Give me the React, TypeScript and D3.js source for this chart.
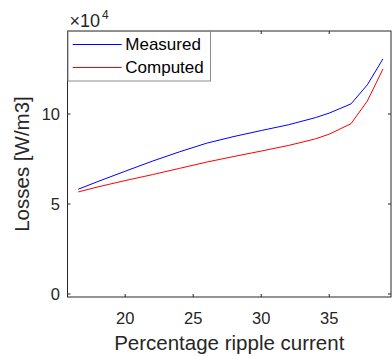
import React from 'react';
import * as d3 from 'd3';

// ripple current (%) and losses (x1e4 W/m3)
const ripple = [16.55, 18, 20, 22, 24, 26, 28, 30, 32, 34, 35, 36.6, 37.8, 38.95];
const measured = [5.82, 6.25, 6.82, 7.38, 7.9, 8.38, 8.75, 9.08, 9.4, 9.8, 10.05, 10.56, 11.62, 13.06];
const computed = [5.67, 5.95, 6.3, 6.63, 6.98, 7.33, 7.64, 7.94, 8.25, 8.62, 8.88, 9.46, 10.72, 12.5];
const xTicks = [20, 25, 30, 35];
const yTicks = [0, 5, 10];
const xDomain: [number, number] = [15.76, 39.54];
const yDomain: [number, number] = [-0.167, 14.61];

const W = 392;
const H = 356;
const m = { left: 67.5, right: 391, top: 31, bottom: 297 };
const font = '"Liberation Sans", Arial, Helvetica, sans-serif';
const axisColor = '#262626';

export default function App() {
  const x = d3.scaleLinear().domain(xDomain).range([m.left, m.right]);
  const y = d3.scaleLinear().domain(yDomain).range([m.bottom, m.top]);

  const line = d3.line<number>()
    .x((_, i) => x(ripple[i]))
    .y((d) => y(d));

  const tick = 3;

  return (
    <svg width={W} height={H} style={{ position: 'absolute', left: 0, top: 0 }} fontFamily={font}>
      <rect width={W} height={H} fill="#fff" />

      {/* data */}
      <path d={line(measured) ?? ''} fill="none" stroke="#0000ff" strokeWidth={1} />
      <path d={line(computed) ?? ''} fill="none" stroke="#ff0000" strokeWidth={1} />

      {/* box */}
      <rect x={m.left} y={m.top} width={m.right - m.left} height={m.bottom - m.top}
        fill="none" stroke={axisColor} strokeWidth={1} />

      {/* x ticks */}
      {xTicks.map((t) => (
        <g key={'x' + t}>
          <line x1={x(t)} x2={x(t)} y1={m.bottom} y2={m.bottom - tick} stroke={axisColor} />
          <line x1={x(t)} x2={x(t)} y1={m.top} y2={m.top + tick} stroke={axisColor} />
          <text x={x(t)} y={323.5} textAnchor="middle" fontSize={16.5} fill={axisColor}>{t}</text>
        </g>
      ))}

      {/* y ticks */}
      {yTicks.map((t) => (
        <g key={'y' + t}>
          <line x1={m.left} x2={m.left + tick} y1={y(t)} y2={y(t)} stroke={axisColor} />
          <line x1={m.right} x2={m.right - tick} y1={y(t)} y2={y(t)} stroke={axisColor} />
          <text x={60} y={y(t)} dy="0.35em" textAnchor="end" fontSize={16.5} fill={axisColor}>{t}</text>
        </g>
      ))}

      {/* exponent */}
      <text x={69.5} y={27} fontSize={18} fill={axisColor}>
        ×10<tspan dx={2} dy={-8} fontSize={12}>4</tspan>
      </text>

      {/* axis labels */}
      <text x={(m.left + m.right) / 2} y={350} textAnchor="middle" fontSize={20.5} fill={axisColor}>
        Percentage ripple current
      </text>
      <text transform={`translate(28.5,${(m.top + m.bottom) / 2}) rotate(-90)`} textAnchor="middle"
        fontSize={20.5} fill={axisColor}>
        Losses [W/m3]
      </text>

      {/* legend */}
      <g>
        <rect x={m.left + 0.5} y={m.top + 0.5} width={142.5} height={49.5} fill="#fff" stroke="#8c8c8c" strokeWidth={1} />
        <line x1={72.7} x2={121.7} y1={44.5} y2={44.5} stroke="#0000ff" />
        <text x={125.3} y={44.5} dy="0.35em" fontSize={17} fill="#000">Measured</text>
        <line x1={72.7} x2={121.7} y1={67.5} y2={67.5} stroke="#ff0000" />
        <text x={125.3} y={67.5} dy="0.35em" fontSize={17} fill="#000">Computed</text>
      </g>
    </svg>
  );
}
